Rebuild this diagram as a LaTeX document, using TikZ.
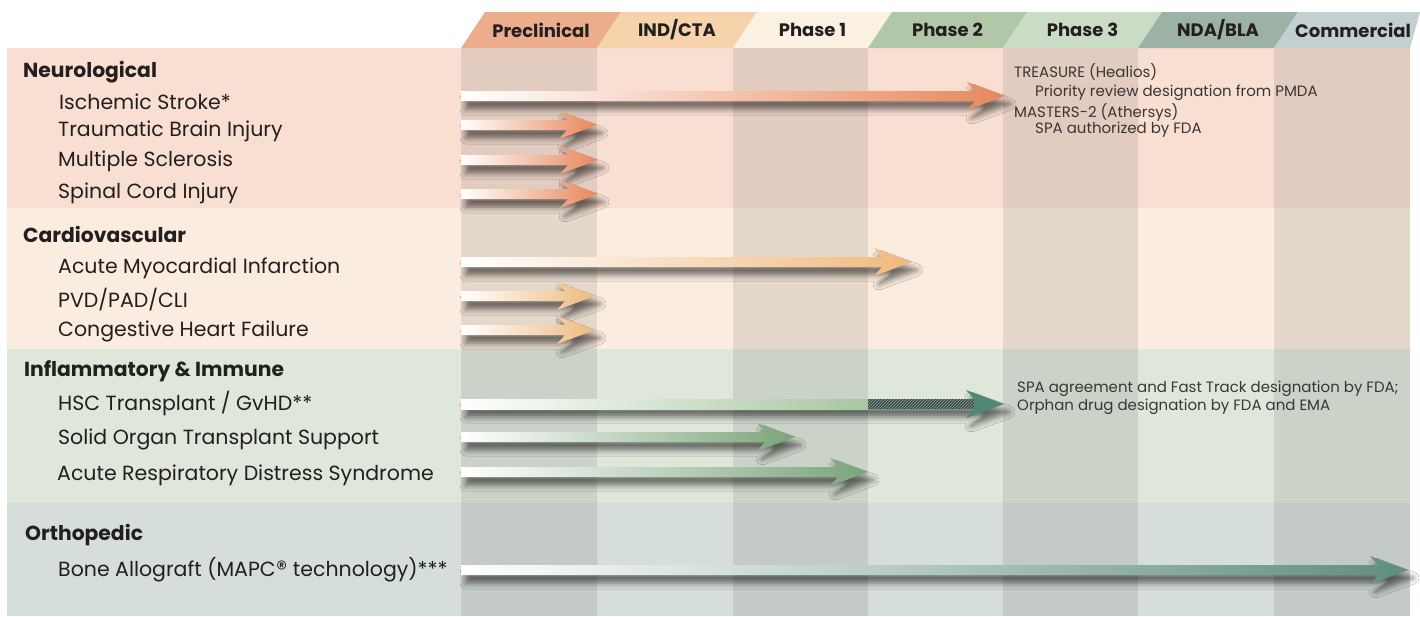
\documentclass[tikz,border=0pt]{standalone}
\usepackage{fontspec}
\setmainfont{Poppins}
\usetikzlibrary{shadows.blur,patterns}
\definecolor{neurobg}{HTML}{F8DFD2}
\definecolor{cardiobg}{HTML}{FAEDDF}
\definecolor{inflbg}{HTML}{DFE6DA}
\definecolor{orthobg}{HTML}{D6DEDA}
\definecolor{tabA}{HTML}{EBAD8C}
\definecolor{tabB}{HTML}{F6D3AB}
\definecolor{tabC}{HTML}{FAF1E3}
\definecolor{tabD}{HTML}{B0C7A8}
\definecolor{tabE}{HTML}{CADBC6}
\definecolor{tabF}{HTML}{9CB2A5}
\definecolor{tabG}{HTML}{C3CFD0}
\definecolor{neuroarrow}{HTML}{E8875A}
\definecolor{cardioarrow}{HTML}{F0B97E}
\definecolor{inflarrow}{HTML}{7BA47A}
\definecolor{hscmid}{HTML}{A9C6A2}
\definecolor{hschead}{HTML}{4F8877}
\definecolor{hatchbg}{HTML}{3B4B47}
\definecolor{hatchln}{HTML}{8FA79D}
\definecolor{orthoarrow}{HTML}{5F8E7C}
\definecolor{ink}{HTML}{231F20}
\definecolor{noteink}{HTML}{3A3636}
\newcommand\pipearrow[5]{%
  \coordinate (#1s) at (#3,#2);
  \coordinate (#1e) at (#4,#2);
  \path[arrowshadow, left color=white, right color=#5]
    (#3,#2-5) -- (#4-30,#2-5) -- (#4-38,#2-14) -- (#4,#2) -- (#4-38,#2+14) -- (#4-30,#2+5) -- (#3,#2+5) -- cycle;
}
\begin{document}
\begin{tikzpicture}[x=1pt,y=-1pt,
  arrowshadow/.style={blur shadow={shadow xshift=5pt, shadow yshift=-8pt, shadow blur radius=6pt, shadow opacity=55}},
  tabtext/.style={font=\bfseries\fontsize{18}{20}\selectfont, text=ink},
  group/.style={anchor=west, font=\bfseries\fontsize{20.3}{22}\selectfont, text=ink, inner sep=0pt},
  item/.style={anchor=west, font=\fontsize{20.5}{22}\selectfont, text=ink, inner sep=0pt},
  note/.style={anchor=west, font=\fontsize{15}{17}\selectfont, text=noteink, inner sep=0pt},
  darkcol/.style={fill=black, fill opacity=0.085}]
\useasboundingbox (0,0) rectangle (1420,616);
\fill[white] (0,0) rectangle (1420,616);
% section backgrounds
\fill[neurobg] (7,48) rectangle (1410,208);
\fill[cardiobg] (7,208) rectangle (1410,349);
\fill[inflbg] (7,349) rectangle (1410,503);
\fill[orthobg] (7,503) rectangle (1410,616);
% darker phase columns
\foreach \xa/\xb in {461/597, 733/868, 1003/1138, 1274/1410}
  \fill[darkcol] (\xa,48) rectangle (\xb,616);
% header tabs
\foreach \xa/\xb/\c/\t [count=\i] in {461/597/tabA/Preclinical, 597/733/tabB/IND\slash CTA, 733/868/tabC/Phase 1, 868/1003/tabD/Phase 2, 1003/1138/tabE/Phase 3, 1138/1274/tabF/NDA\slash BLA}{
  \fill[\c] (\xa,48) -- (\xa+24,12) -- (\xb+24,12) -- (\xb,48) -- cycle;
  \node[tabtext] (tab\i) at ({(\xa+\xb)/2+12},30) {\t};
}
\fill[tabG] (1274,48) -- (1298,12) -- (1420,12) -- (1410,48) -- cycle;
\node[tabtext] (tab7) at (1353,30) {Commercial};
% labels
\node[group] (neuro) at (23,72) {Neurological};
\node[item] (l1) at (59,102) {Ischemic Stroke*};
\node[item] (l2) at (58,131) {Traumatic Brain Injury};
\node[item] (l3) at (58,161) {Multiple Sclerosis};
\node[item] (l4) at (58,193) {Spinal Cord Injury};
\node[group] (cardio) at (23,234) {Cardiovascular};
\node[item] (l5) at (58,268) {Acute Myocardial Infarction};
\node[item] (l6) at (58,300) {PVD/PAD/CLI};
\node[item] (l7) at (58,331) {Congestive Heart Failure};
\node[group] (infl) at (24,371) {Inflammatory \& Immune};
\node[item] (l8) at (58,404) {HSC Transplant / GvHD**};
\node[item] (l9) at (58,439) {Solid Organ Transplant Support};
\node[item] (l10) at (57,475) {Acute Respiratory Distress Syndrome};
\node[group] (ortho) at (25,535) {Orthopedic};
\node[item] (l11) at (58,570) {Bone Allograft (MAPC\kern0.5pt{\fontsize{22}{22}\selectfont ®}\ technology)***};
% arrows
\pipearrow{a1}{96}{461}{1005}{neuroarrow}
\pipearrow{a2}{125}{461}{597}{neuroarrow}
\pipearrow{a3}{160}{461}{598}{neuroarrow}
\pipearrow{a4}{194}{461}{598}{neuroarrow}
\pipearrow{a5}{262}{461}{912}{cardioarrow}
\pipearrow{a6}{296}{461}{595}{cardioarrow}
\pipearrow{a7}{330}{461}{595}{cardioarrow}
% HSC arrow: gradient shaft, hatched part, teal head
\coordinate (a8s) at (461,404);
\coordinate (a8e) at (1004,404);
\path[arrowshadow, fill=hschead] (461,399) -- (974,399) -- (966,390) -- (1004,404) -- (966,418) -- (974,409) -- (461,409) -- cycle;
\shade[left color=white, right color=hscmid] (461,399) rectangle (868,409);
\fill[hatchbg] (868,399) rectangle (974,409);
\fill[pattern=north east lines, pattern color=hatchln] (868,399) rectangle (974,409);
\pipearrow{a9}{437}{461}{795}{inflarrow}
\pipearrow{a10}{472}{461}{868}{inflarrow}
\pipearrow{a11}{570}{461}{1408}{orthoarrow}
% notes
\node[note] (n1) at (1014,72) {TREASURE (Healios)};
\node[note] (n2) at (1035,93) {Priority review designation from PMDA};
\node[note] (n3) at (1014,112) {MASTERS-2 (Athersys)};
\node[note] (n4) at (1035,130) {SPA authorized by FDA};
\node[note] (n5) at (1017,389) {SPA agreement and Fast Track designation by FDA;};
\node[note] (n6) at (1017,407) {Orphan drug designation by FDA and EMA};
\end{tikzpicture}
\end{document}
